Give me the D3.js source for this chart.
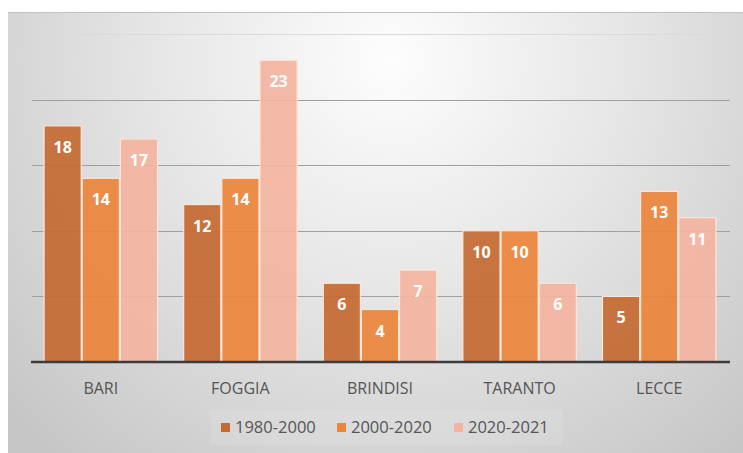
<!DOCTYPE html>
<html>
<head>
<meta charset="utf-8">
<style>
    body { margin: 0; background: #fff; }
    svg { display: block; }
    text { font-family: 'Open Sans', 'Lato', sans-serif; }
</style>
</head>
<body>
<svg width="743" height="453"></svg>
<script src="https://d3js.org/d3.v7.min.js"></script>
<script>
    // data
    let cities = ["BARI", "FOGGIA", "BRINDISI", "TARANTO", "LECCE"];
    let periods = ["1980-2000", "2000-2020", "2020-2021"];
    let v1980 = [18, 12, 6, 10, 5];
    let v2000 = [14, 14, 4, 10, 13];
    let v2020 = [17, 23, 7, 6, 11];
    let gridTicks = [0, 5, 10, 15, 20, 25];
    let colors = ["#c46b34", "#eb843c", "#f3b5a0"];

    let table = cities.map((c, i) => ({
        city: c,
        values: [v1980[i], v2000[i], v2020[i]]
    }));

    let svg = d3.select("svg");

    // background gradient
    let defs = svg.append("defs");
    let grad = defs.append("radialGradient")
        .attr("id", "bg")
        .attr("gradientUnits", "userSpaceOnUse")
        .attr("cx", 390).attr("cy", 60).attr("r", 520);
    grad.append("stop").attr("offset", "0").attr("stop-color", "#fdfdfd");
    grad.append("stop").attr("offset", "0.45").attr("stop-color", "#e6e6e6");
    grad.append("stop").attr("offset", "1").attr("stop-color", "#c6c6c6");

    svg.append("rect")
        .attr("x", 8).attr("y", 12)
        .attr("width", 735).attr("height", 441)
        .attr("fill", "url(#bg)");
    svg.append("line")
        .attr("x1", 8).attr("x2", 743).attr("y1", 12.5).attr("y2", 12.5)
        .attr("stroke", "#c0c0c0");

    let x = d3.scaleBand()
        .domain(cities)
        .range([31, 729])
        .paddingInner(0.18)
        .paddingOuter(0.09);

    let xs = d3.scaleBand()
        .domain(periods)
        .range([0, x.bandwidth()]);

    let y = d3.scaleLinear()
        .domain([0, 25])
        .range([362, 34]);

    // gridlines
    svg.append("g")
        .selectAll("line")
        .data(gridTicks.filter(d => d > 0))
        .join("line")
        .attr("x1", 32).attr("x2", 730)
        .attr("y1", d => Math.round(y(d)) + 0.5)
        .attr("y2", d => Math.round(y(d)) + 0.5)
        .attr("stroke", d => d === 25 ? "#dadada" : "#a0a0a0")
        .attr("stroke-width", 1);

    // bars
    let groups = svg.append("g")
        .selectAll("g")
        .data(table)
        .join("g")
        .attr("transform", d => "translate(" + x(d.city) + ",0)");

    let cells = groups.selectAll("g")
        .data(d => d.values.map((v, j) => ({ period: periods[j], value: v, j: j })))
        .join("g");

    cells.append("rect")
        .attr("x", d => xs(d.period) + 0.5)
        .attr("y", d => y(d.value))
        .attr("width", xs.bandwidth() - 1)
        .attr("height", d => y(0) - y(d.value))
        .attr("fill", d => colors[d.j])
        .attr("fill-opacity", 0.93)
        .attr("stroke", "#fbe6da")
        .attr("stroke-width", 1.2);

    cells.append("text")
        .attr("x", d => xs(d.period) + xs.bandwidth() / 2)
        .attr("y", d => y(d.value) + 27)
        .attr("text-anchor", "middle")
        .attr("fill", "#fff")
        .attr("font-weight", "bold")
        .attr("font-size", "16px")
        .text(d => d.value);

    // baseline
    svg.append("line")
        .attr("x1", 31).attr("x2", 730)
        .attr("y1", y(0)).attr("y2", y(0))
        .attr("stroke", "#3c3c3c")
        .attr("stroke-width", 2.5);

    // category labels
    svg.append("g")
        .selectAll("text")
        .data(cities)
        .join("text")
        .attr("x", d => x(d) + x.bandwidth() / 2)
        .attr("y", 394)
        .attr("text-anchor", "middle")
        .attr("fill", "#555")
        .attr("font-size", "16px")
        .text(d => d);

    // legend
    svg.append("rect")
        .attr("x", 210).attr("y", 410)
        .attr("width", 353).attr("height", 35)
        .attr("fill", "#ffffff")
        .attr("fill-opacity", 0.1);

    let legendX = [221, 337, 454];
    let legend = svg.append("g")
        .selectAll("g")
        .data(periods)
        .join("g")
        .attr("transform", (d, i) => "translate(" + legendX[i] + ",0)");

    legend.append("rect")
        .attr("x", 0).attr("y", 423)
        .attr("width", 9).attr("height", 9)
        .attr("fill", (d, i) => colors[i]);

    legend.append("text")
        .attr("x", 14).attr("y", 433)
        .attr("fill", "#555")
        .attr("font-size", "16.5px")
        .text(d => d);
</script>
</body>
</html>
